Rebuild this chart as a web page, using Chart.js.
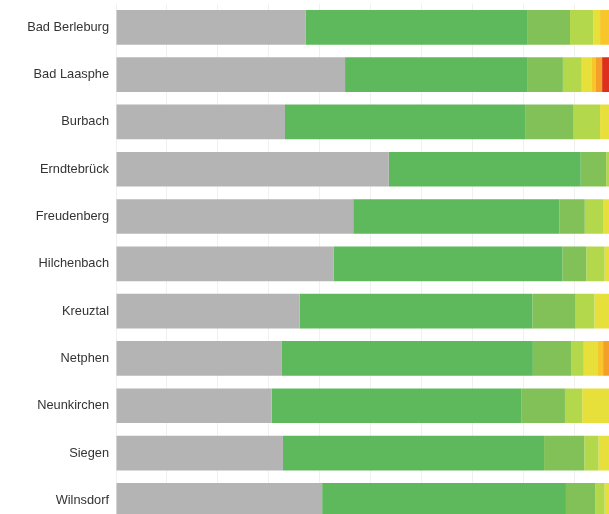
<!DOCTYPE html>
<html>
<head>
<meta charset="utf-8">
<script src="https://cdn.jsdelivr.net/npm/chart.js@4"></script>
<style>
  html, body { margin: 0; padding: 0; overflow: hidden; background: #fff; }
  #wrap { width: 640px; height: 550px; margin-top: -11px; }
</style>
</head>
<body>
<div id="wrap"><canvas id="canvas"></canvas></div>
<script>
const labels = ['Bad Berleburg', 'Bad Laasphe', 'Burbach', 'Erndtebrück', 'Freudenberg', 'Hilchenbach', 'Kreuztal', 'Netphen', 'Neunkirchen', 'Siegen', 'Wilnsdorf']

// shares in percent, left to right
const grau      = [37.3, 45.0, 33.2, 53.6, 46.6, 42.8, 36.1, 32.6, 30.6, 32.8, 40.5]
const gruen     = [43.6, 35.9, 47.3, 37.7, 40.5, 44.9, 45.7, 49.3, 49.1, 51.3, 47.9]
const hellgruen = [8.3, 6.9, 9.4, 5.0, 5.0, 4.7, 8.5, 7.5, 8.5, 7.9, 5.8]
const gelbgruen = [4.6, 3.7, 5.2, 2.0, 3.7, 3.6, 3.7, 2.5, 3.4, 2.8, 1.8]
const gelb      = [1.3, 2.0, 3.0, 1.7, 2.5, 2.5, 4.0, 2.8, 6.0, 3.5, 2.5]
const hellorange = [4.9, 0.8, 1.9, 0, 1.7, 1.5, 2.0, 1.0, 2.4, 1.7, 1.5]
const orange    = [0, 1.2, 0, 0, 0, 0, 0, 2.0, 0, 0, 0]
const rot       = [0, 4.5, 0, 0, 0, 0, 0, 2.3, 0, 0, 0]

const data = {
    labels: labels,
    datasets: [
        { label: 'grau', data: grau, backgroundColor: '#b4b4b4' },
        { label: 'grün', data: gruen, backgroundColor: '#5eb95d' },
        { label: 'hellgrün', data: hellgruen, backgroundColor: '#82c158' },
        { label: 'gelbgrün', data: gelbgruen, backgroundColor: '#b4d84b' },
        { label: 'gelb', data: gelb, backgroundColor: '#e7df3a' },
        { label: 'hellorange', data: hellorange, backgroundColor: '#f6c62a' },
        { label: 'orange', data: orange, backgroundColor: '#f4a028' },
        { label: 'rot', data: rot, backgroundColor: '#de2f1d' },
    ],
}

const config = {
    type: 'bar',
    data: data,
    options: {
        indexAxis: 'y',
        responsive: true,
        maintainAspectRatio: false,
        animation: false,
        layout: { padding: { top: 3, right: 15, bottom: 15, left: 0 } },
        datasets: { bar: { barPercentage: 0.733, categoryPercentage: 1 } },
        plugins: { legend: { display: false }, tooltip: { enabled: false } },
        scales: {
            x: {
                stacked: true,
                min: 0,
                max: 100,
                ticks: { display: false, stepSize: 10 },
                grid: { color: '#f0f0f0', drawTicks: false },
                border: { display: false },
            },
            y: {
                stacked: true,
                grid: { display: false, drawTicks: false },
                border: { display: false },
                ticks: { color: '#333', padding: 7, font: { family: 'Liberation Sans', size: 12.8 } },
                afterFit: (scale) => { scale.width = 116 },
            },
        },
    },
}

const canvas = document.getElementById('canvas')
const chart = new Chart(canvas, config)
</script>
</body>
</html>
